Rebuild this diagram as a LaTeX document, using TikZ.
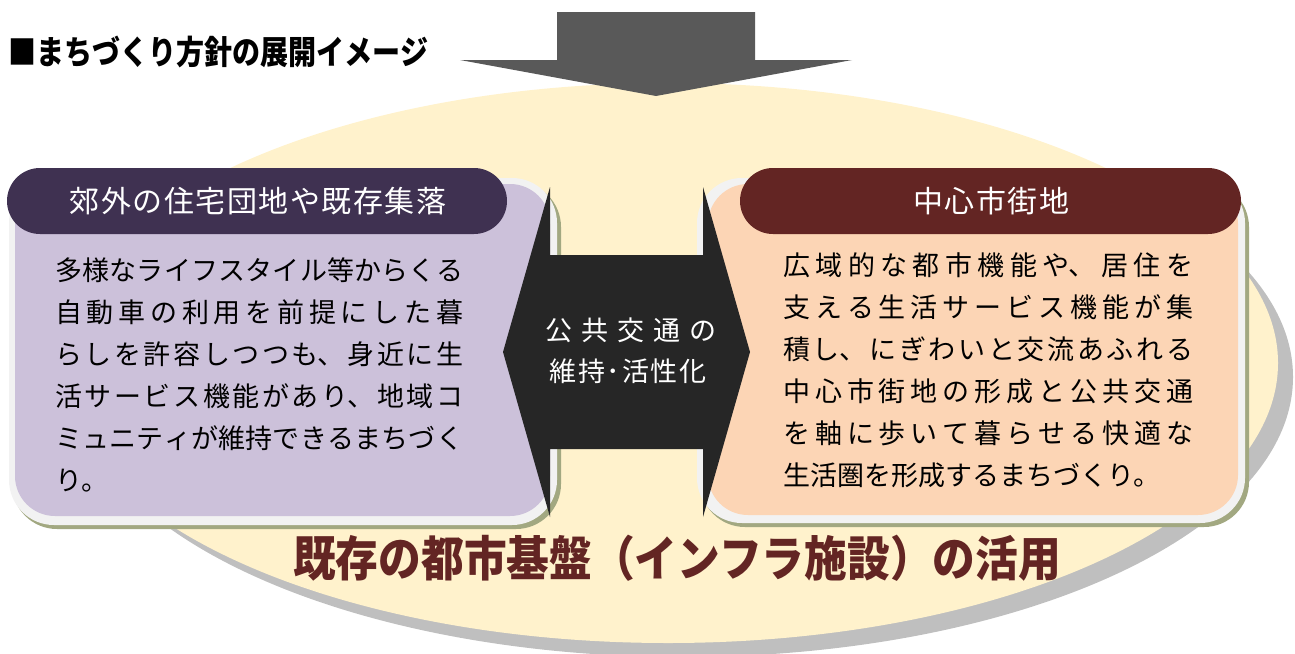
\documentclass[tikz,border=0pt]{standalone}
\usepackage{fontspec}
\setmainfont{Noto Sans CJK JP}
\newfontfamily\jpbody{Noto Sans CJK JP}
\newfontfamily\jphead[LetterSpace=5]{Noto Sans CJK JP}
\newfontfamily\jpmid[LetterSpace=33]{Noto Sans CJK JP}
\newfontfamily\jpmidb[LetterSpace=6]{Noto Sans CJK JP}
\newfontfamily\jptitle[FakeStretch=0.85]{Noto Sans CJK JP}
\newfontfamily\jpbig[FakeStretch=0.89]{Noto Sans CJK JP}
\XeTeXlinebreaklocale "ja"
\XeTeXlinebreakskip=0pt plus 20pt
\definecolor{cream}{HTML}{FFF2CC}
\definecolor{shgray}{HTML}{BFBFBF}
\definecolor{arrowgray}{HTML}{595959}
\definecolor{arrowblack}{HTML}{262626}
\definecolor{framegray}{HTML}{F2F2F2}
\definecolor{olive}{HTML}{A2A881}
\definecolor{lilac}{HTML}{CCC1DA}
\definecolor{peach}{HTML}{FCD5B5}
\definecolor{darkpurple}{HTML}{3F3151}
\definecolor{darkred}{HTML}{632523}
\tikzset{
  hdtext/.style={text=white, inner sep=0, font=\jphead\fontsize{30}{30}\selectfont},
  bodytext/.style={anchor=north west, inner sep=0, align=justify, text=black,
    font=\jpbody\fontsize{27}{42}\selectfont},
  midtext/.style={text=white, inner sep=0},
}
\begin{document}
\begin{tikzpicture}[x=1pt,y=-1pt]
\useasboundingbox (0,0) rectangle (1295,653);
\clip (0,0) rectangle (1295,653);
% ellipse with shadow
\fill[shgray] (683,377) ellipse [x radius=610pt, y radius=280pt];
\fill[cream] (668,363) ellipse [x radius=610pt, y radius=280pt];
% top arrow
\fill[arrowgray] (557,12) -- (755,12) -- (755,60) -- (852,60) -- (656,96) -- (460,60) -- (557,60) -- cycle;
% left box
\fill[olive, rounded corners=45pt] (12,182) rectangle (561,529);
\fill[framegray, rounded corners=45pt] (9,178) rectangle (557,525);
\fill[lilac, rounded corners=40pt] (15,184) rectangle (550,516);
\fill[darkpurple, rounded corners=33pt] (7,168) rectangle (507,234);
% right box
\fill[olive, rounded corners=45pt] (700,182) rectangle (1249,527);
\fill[framegray, rounded corners=45pt] (697,178) rectangle (1245,523);
\fill[peach, rounded corners=40pt] (708,184) rectangle (1238,515);
\fill[darkred, rounded corners=33pt] (740,168) rectangle (1241,234);
% centre double arrow
\fill[arrowblack] (503,352) -- (550,187) -- (550,255) -- (703,255) -- (703,187) -- (750,352)
  -- (703,517) -- (703,449) -- (550,449) -- (550,517) -- cycle;
% texts
\node[anchor=west, inner sep=0, font=\jptitle\bfseries\fontsize{33}{33}\selectfont] (title) at (8,52) {■まちづくり方針の展開イメージ};
\node[hdtext] (lhead) at (258,201) {郊外の住宅団地や既存集落};
\node[hdtext] (rhead) at (991,201) {中心市街地};
\node[bodytext, text width=408pt] (lbody) at (55,257)
  {多様なライフスタイル等からくる\linebreak 自動車の利用を前提にした暮\linebreak らしを許容しつつも、身近に生\linebreak 活サービス機能があり、地域コ\linebreak ミュニティが維持できるまちづく\linebreak り。};
\node[bodytext, text width=410pt] (rbody) at (783,252)
  {広域的な都市機能や、居住を\linebreak 支える生活サービス機能が集\linebreak 積し、にぎわいと交流あふれる\linebreak 中心市街地の形成と公共交通\linebreak を軸に歩いて暮らせる快適な\linebreak 生活圏を形成するまちづくり。};
\node[midtext, font=\jpmid\fontsize{27}{27}\selectfont] (mid1) at (631,330) {公共交通の};
\node[midtext, font=\jpmidb\fontsize{27}{27}\selectfont] (mid2) at (628,371) {維持･活性化};
\node[inner sep=0, text=darkred, font=\jpbig\bfseries\fontsize{48}{48}\selectfont] (base) at (677,558) {既存の都市基盤（インフラ施設）の活用};
\end{tikzpicture}
\end{document}
